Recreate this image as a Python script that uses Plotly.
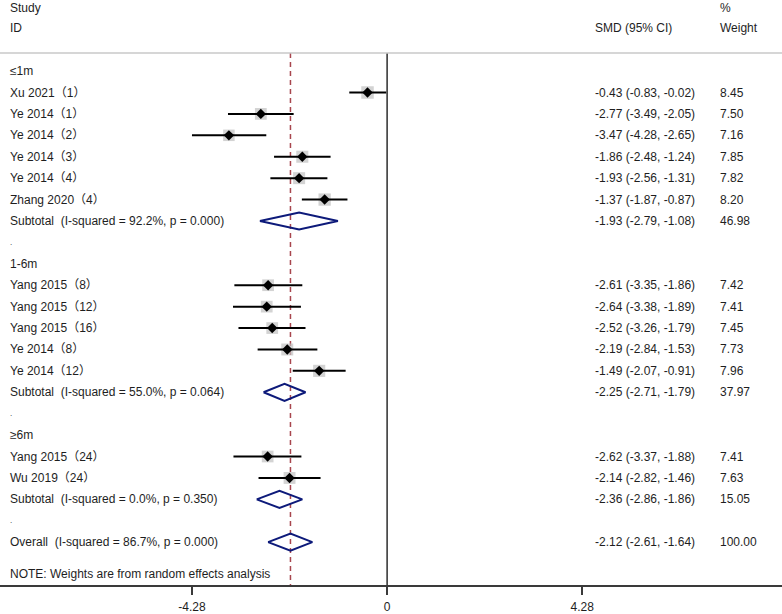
import plotly.graph_objects as go

# rows of the forest plot, top to bottom
labels = ["≤1m", "Xu 2021（1）", "Ye 2014（1）", "Ye 2014（2）", "Ye 2014（3）",
          "Ye 2014（4）", "Zhang 2020（4）", "Subtotal  (I-squared = 92.2%, p = 0.000)", ".",
          "1-6m", "Yang 2015（8）", "Yang 2015（12）", "Yang 2015（16）", "Ye 2014（8）",
          "Ye 2014（12）", "Subtotal  (I-squared = 55.0%, p = 0.064)", ".",
          "≥6m", "Yang 2015（24）", "Wu 2019（24）", "Subtotal  (I-squared = 0.0%, p = 0.350)", ".",
          "Overall  (I-squared = 86.7%, p = 0.000)"]
kinds = ["head", "study", "study", "study", "study", "study", "study", "sub", "blank",
         "head", "study", "study", "study", "study", "study", "sub", "blank",
         "head", "study", "study", "sub", "blank", "sub"]
smd = [None, -0.43, -2.77, -3.47, -1.86, -1.93, -1.37, -1.93, None,
       None, -2.61, -2.64, -2.52, -2.19, -1.49, -2.25, None,
       None, -2.62, -2.14, -2.36, None, -2.12]
lower = [None, -0.83, -3.49, -4.28, -2.48, -2.56, -1.87, -2.79, None,
         None, -3.35, -3.38, -3.26, -2.84, -2.07, -2.71, None,
         None, -3.37, -2.82, -2.86, None, -2.61]
upper = [None, -0.02, -2.05, -2.65, -1.24, -1.31, -0.87, -1.08, None,
         None, -1.86, -1.89, -1.79, -1.53, -0.91, -1.79, None,
         None, -1.88, -1.46, -1.86, None, -1.64]
weight = [None, 8.45, 7.50, 7.16, 7.85, 7.82, 8.20, 46.98, None,
          None, 7.42, 7.41, 7.45, 7.73, 7.96, 37.97, None,
          None, 7.41, 7.63, 15.05, None, 100.00]
note = "NOTE: Weights are from random effects analysis"
tick_vals = [-4.28, 0, 4.28]
tick_text = ["-4.28", "0", "4.28"]

FONT = "Arial, Liberation Sans, Noto Sans CJK SC, sans-serif"
TXT = "#1e1e1e"
NAVY = "#0d1a7a"

rows = list(range(len(labels)))
y_top, y_axis = -0.84, 24.0
overall = smd[-1]

fig = go.Figure()

# reference lines
fig.add_trace(go.Scatter(x=[0, 0], y=[y_top, y_axis], mode="lines",
                         line=dict(color="#3a3a3a", width=1.6), hoverinfo="skip"))
fig.add_trace(go.Scatter(x=[overall, overall], y=[y_top, y_axis], mode="lines",
                         line=dict(color="#a8464e", width=1.5, dash="5px,4px"), hoverinfo="skip"))

# study CIs and markers
ci_x, ci_y, px, py, pw = [], [], [], [], []
for r, k in zip(rows, kinds):
    if k == "study":
        ci_x += [lower[r], upper[r], None]
        ci_y += [r, r, None]
        px.append(smd[r])
        py.append(r)
        pw.append(weight[r])
fig.add_trace(go.Scatter(x=px, y=py, mode="markers", hoverinfo="skip",
                         marker=dict(symbol="square", color="#c0c0c0",
                                     size=[4.3 * w ** 0.5 for w in pw], line=dict(width=0))))
fig.add_trace(go.Scatter(x=ci_x, y=ci_y, mode="lines", line=dict(color="black", width=2),
                         hoverinfo="skip"))
fig.add_trace(go.Scatter(x=px, y=py, mode="markers", hoverinfo="skip",
                         marker=dict(symbol="diamond", color="black", size=8)))

# pooled diamonds
for r, k in zip(rows, kinds):
    if k == "sub":
        fig.add_trace(go.Scatter(x=[lower[r], smd[r], upper[r], smd[r], lower[r]],
                                 y=[r, r - 0.4, r, r + 0.4, r], mode="lines",
                                 line=dict(color=NAVY, width=2), hoverinfo="skip"))

# separator line under header
fig.add_trace(go.Scatter(x=[-8.49, 8.66], y=[y_top, y_top], mode="lines",
                         line=dict(color="#c8c8c8", width=1.5), hoverinfo="skip"))

ann = []
def txt(x, y, s, size=12):
    ann.append(dict(x=x, y=y, xref="paper", yref="y", text=s, showarrow=False,
                    xanchor="left", yanchor="middle", font=dict(family=FONT, size=size, color=TXT)))

txt(8 / 782, -2.95, "Study")
txt(8 / 782, -2.0, "ID")
txt(593 / 782, -2.0, "SMD (95% CI)")
txt(718 / 782, -2.95, "%")
txt(718 / 782, -2.0, "Weight")
for r, k in zip(rows, kinds):
    txt(8 / 782, r, labels[r], size=8 if k == "blank" else 12)
    if smd[r] is not None:
        txt(593 / 782, r, f"{smd[r]:.2f} ({lower[r]:.2f}, {upper[r]:.2f})")
        txt(718 / 782, r, f"{weight[r]:.2f}")
txt(8 / 782, 23.5, note)

fig.update_layout(
    width=782, height=614, autosize=False,
    margin=dict(l=0, r=0, t=0, b=29),
    paper_bgcolor="white", plot_bgcolor="white",
    showlegend=False, annotations=ann,
    xaxis=dict(range=[-8.49, 8.66], showgrid=False, zeroline=False,
               showline=True, linecolor="#3a3a3a", linewidth=1.6,
               ticks="outside", ticklen=8, tickwidth=1.6, tickcolor="#3a3a3a",
               tickvals=tick_vals, ticktext=tick_text, ticklabelstandoff=2,
               tickfont=dict(family=FONT, size=12, color=TXT)),
    yaxis=dict(range=[y_axis, -3.32], showgrid=False, zeroline=False,
               showticklabels=False, showline=False),
)

fig.write_html("out.html", config={"displayModeBar": False},
               post_script="document.body.style.margin='0';document.body.style.overflow='hidden';")
